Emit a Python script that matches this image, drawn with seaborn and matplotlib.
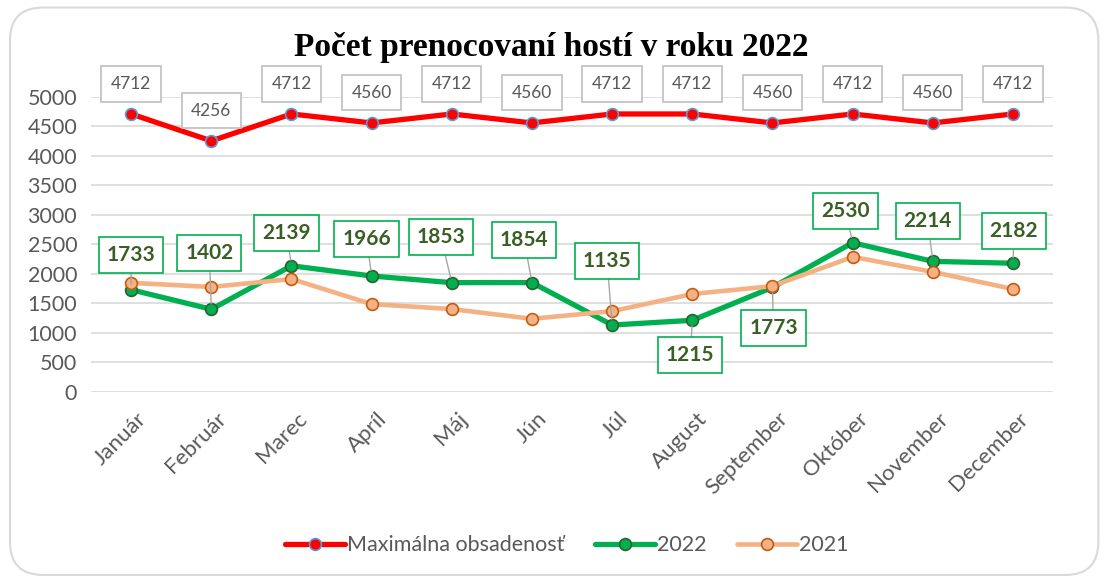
import matplotlib
matplotlib.use("Agg")
import matplotlib.pyplot as plt
import matplotlib.transforms as mtrans
from matplotlib.patches import FancyBboxPatch
import pandas as pd
import seaborn as sns

months = ["Január", "Február", "Marec", "Apríl", "Máj", "Jún", "Júl",
          "August", "September", "Október", "November", "December"]
max_capacity = [4712, 4256, 4712, 4560, 4712, 4560, 4712, 4712, 4560, 4712, 4560, 4712]
guests_2022 = [1733, 1402, 2139, 1966, 1853, 1854, 1135, 1215, 1773, 2530, 2214, 2182]
guests_2021 = [1850, 1780, 1915, 1490, 1405, 1240, 1370, 1660, 1795, 2290, 2035, 1745]
y_ticks = list(range(0, 5001, 500))

# label offsets in pixels (dx, dy), as placed in the original
red_offsets = [(0, 30)] * 12
green_offsets = [(0, 35), (-2, 56), (-5, 33), (-5, 37), (-11, 46), (-8, 43),
                 (-5, 64), (-2, -35), (1, -41), (-7, 32), (-5, 40), (1, 32)]

sns.set_theme(style="white")
plt.rcParams["font.family"] = ["Lato", "DejaVu Sans"]

df = pd.DataFrame({"month": months, "max": max_capacity,
                   "y2022": guests_2022, "y2021": guests_2021})

fig = plt.figure(figsize=(11.05, 5.79), dpi=100)
ax = fig.add_axes([0.0824, 0.323, 0.8706, 0.5095])

sns.lineplot(data=df, x="month", y="max", ax=ax, color="#FF0000", linewidth=3.8,
             marker="o", markersize=8.5, markerfacecolor="#FF0000",
             markeredgecolor="#5B9BD5", markeredgewidth=1.2,
             label="Maximálna obsadenosť", sort=False, zorder=3)
sns.lineplot(data=df, x="month", y="y2022", ax=ax, color="#00B050", linewidth=3.8,
             marker="o", markersize=8.5, markerfacecolor="#00B050",
             markeredgecolor="#2F5F2F", markeredgewidth=1.2,
             label="2022", sort=False, zorder=3)
sns.lineplot(data=df, x="month", y="y2021", ax=ax, color="#F4B183", linewidth=3.3,
             marker="o", markersize=8.5, markerfacecolor="#F4B183",
             markeredgecolor="#C55A11", markeredgewidth=1.2,
             label="2021", sort=False, zorder=4)

# ── data labels ─────────────────────────────────────────────────────────────
for i, v in enumerate(max_capacity):
    dx, dy = red_offsets[i]
    ax.annotate(str(v), (i, v), xytext=(dx, dy), textcoords="offset pixels",
                ha="center", va="center", fontsize=12.5, color="#595959",
                bbox=dict(boxstyle="square,pad=0.55", fc="white", ec="#BFBFBF", lw=1.2),
                zorder=6, annotation_clip=False)

for i, v in enumerate(guests_2022):
    dx, dy = green_offsets[i]
    ax.annotate(str(v), (i, v), xytext=(dx, dy), textcoords="offset pixels",
                ha="center", va="center", fontsize=15, fontweight="bold",
                color="#3A5F24",
                bbox=dict(boxstyle="square,pad=0.38", fc="white", ec="#00B050", lw=1.2),
                arrowprops=dict(arrowstyle="-", color="#A6A6A6", lw=1,
                                shrinkA=0, shrinkB=4),
                zorder=6, annotation_clip=False)

# ── axes ────────────────────────────────────────────────────────────────────
ax.set_xlim(-0.5, 11.5)
ax.set_ylim(0, 5000)
ax.set_yticks(y_ticks)
ax.set_yticklabels([str(t) for t in y_ticks], fontsize=15.5, color="#595959")
ax.set_xticks(range(len(months)))
ax.set_xticklabels(months, rotation=45, ha="right", rotation_mode="anchor",
                   fontsize=16, color="#595959")
ax.tick_params(axis="y", length=0, pad=10)
ax.tick_params(axis="x", length=0, pad=12)
shift = mtrans.ScaledTranslation(5 / 100, 0, fig.dpi_scale_trans)
for lbl in ax.get_xticklabels():
    lbl.set_transform(lbl.get_transform() + shift)
ax.set_xlabel("")
ax.set_ylabel("")
ax.grid(axis="y", color="#D9D9D9", linewidth=1.2)
ax.set_axisbelow(True)
for s in ax.spines.values():
    s.set_visible(False)

handles, labels = ax.get_legend_handles_labels()
ax.get_legend().remove()
fig.legend(handles, labels, loc="center", bbox_to_anchor=(0.513, 0.058), ncol=3,
           frameon=False, fontsize=15.5, handlelength=2.8, handletextpad=0.1,
           columnspacing=1.4, labelcolor="#595959")

fig.text(0.499, 0.918, "Počet prenocovaní hostí v roku 2022", ha="center", va="center",
         fontsize=24, fontweight="bold", family="Liberation Serif", color="black")

border = FancyBboxPatch((0.009, 0.007), 0.985, 0.98, boxstyle="round,pad=0,rounding_size=0.03",
                        transform=fig.transFigure, fc="none", ec="#D9D9D9", lw=1.5,
                        mutation_aspect=1.9)
fig.patches.append(border)

fig.savefig("out.png", dpi=100)
